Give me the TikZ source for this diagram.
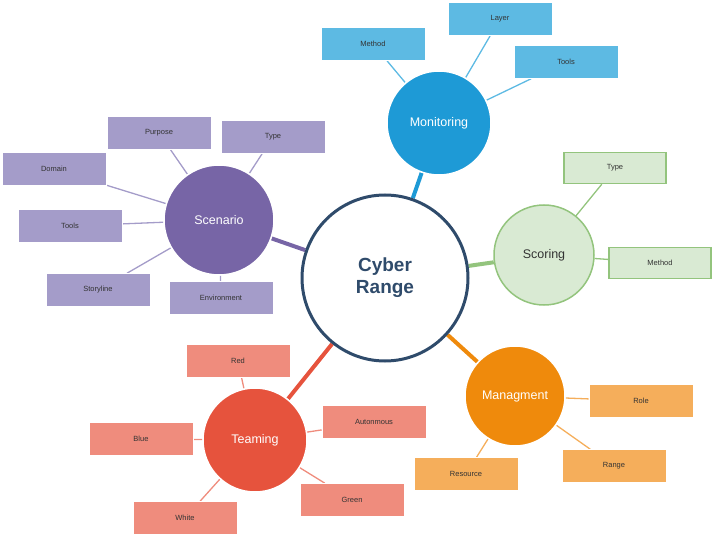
\documentclass[tikz,border=0pt]{standalone}
\usepackage{fontspec}
\setmainfont{Liberation Sans}
\usetikzlibrary{backgrounds}
\definecolor{monC}{HTML}{1E9AD6}\definecolor{monB}{HTML}{5DBAE3}
\definecolor{scoC}{HTML}{D9EAD3}\definecolor{scoL}{HTML}{93C47D}
\definecolor{manC}{HTML}{EF8A0C}\definecolor{manB}{HTML}{F5AE5B}
\definecolor{teaC}{HTML}{E6533D}\definecolor{teaB}{HTML}{EF8C7D}
\definecolor{scnC}{HTML}{7765A6}\definecolor{scnB}{HTML}{A49CC9}
\definecolor{hubC}{HTML}{2F4B6B}
\tikzset{
  leaf/.style={rectangle,fill=#1,draw=white,line width=0.6pt,minimum width=104pt,minimum height=33pt,font=\fontsize{7.5}{9}\selectfont,text=black!80},
  topic/.style={circle,fill=#1,draw=white,line width=1.5pt,minimum size=104pt,text=white,font=\fontsize{12.5}{14}\selectfont},
  spoke/.style={line width=4pt,draw=#1},
  twig/.style={line width=1.3pt,draw=#1}
}
\begin{document}
\begin{tikzpicture}[x=1pt,y=-1pt]
\useasboundingbox (0,0) rectangle (715,537);
% Hub
\node[circle,draw=hubC,line width=3pt,fill=white,minimum size=166pt,align=center,text=hubC,font=\fontsize{19}{22}\bfseries\selectfont] (hub) at (385,278) {Cyber\\Range};
% Monitoring
\node[topic=monC] (mon) at (439,123) {Monitoring};
\node[leaf=monB] (monMethod) at (373,44) {Method};
\node[leaf=monB] (monLayer) at (500,19) {Layer};
\node[leaf=monB] (monTools) at (566,62) {Tools};
% Scoring
\node[topic=scoC,draw=scoL,text=black!80,minimum size=100pt] (sco) at (544,255) {Scoring};
\node[leaf=scoC,draw=scoL,line width=1.5pt,minimum width=102pt,minimum height=31pt] (scoType) at (615,168) {Type};
\node[leaf=scoC,draw=scoL,line width=1.5pt,minimum width=102pt,minimum height=31pt] (scoMethod) at (660,263) {Method};
% Managment
\node[topic=manC,minimum size=100pt] (man) at (515,396) {Managment};
\node[leaf=manB] (manRole) at (641,401) {Role};
\node[leaf=manB] (manRange) at (614,466) {Range};
\node[leaf=manB] (manRes) at (466,474) {Resource};
% Teaming
\node[topic=teaC] (tea) at (255,440) {Teaming};
\node[leaf=teaB] (teaRed) at (238,361) {Red};
\node[leaf=teaB] (teaAut) at (374,422) {Autonmous};
\node[leaf=teaB] (teaBlue) at (141,439) {Blue};
\node[leaf=teaB] (teaGreen) at (352,500) {Green};
\node[leaf=teaB] (teaWhite) at (185,518) {White};
% Scenario
\node[topic=scnC,minimum size=110pt] (scn) at (219,220) {Scenario};
\node[leaf=scnB] (scnPurpose) at (159,133) {Purpose};
\node[leaf=scnB] (scnType) at (273,137) {Type};
\node[leaf=scnB] (scnDomain) at (54,169) {Domain};
\node[leaf=scnB] (scnTools) at (70,226) {Tools};
\node[leaf=scnB] (scnStory) at (98,290) {Storyline};
\node[leaf=scnB] (scnEnv) at (221,298) {Environment};
% Connectors
\begin{scope}[on background layer]
\draw[spoke=monC] (hub) -- (mon);
\draw[spoke=scoL] (hub) -- (sco);
\draw[spoke=manC] (hub) -- (man);
\draw[spoke=teaC] (hub) -- (tea);
\draw[spoke=scnC] (hub) -- (scn);
\foreach \b in {monMethod,monLayer,monTools} \draw[twig=monB] (mon) -- (\b);
\foreach \b in {scoType,scoMethod} \draw[twig=scoL] (sco) -- (\b);
\foreach \b in {manRole,manRange,manRes} \draw[twig=manB] (man) -- (\b);
\foreach \b in {teaRed,teaAut,teaBlue,teaGreen,teaWhite} \draw[twig=teaB] (tea) -- (\b);
\foreach \b in {scnPurpose,scnType,scnDomain,scnTools,scnStory,scnEnv} \draw[twig=scnB] (scn) -- (\b);
\end{scope}
\end{tikzpicture}
\end{document}
